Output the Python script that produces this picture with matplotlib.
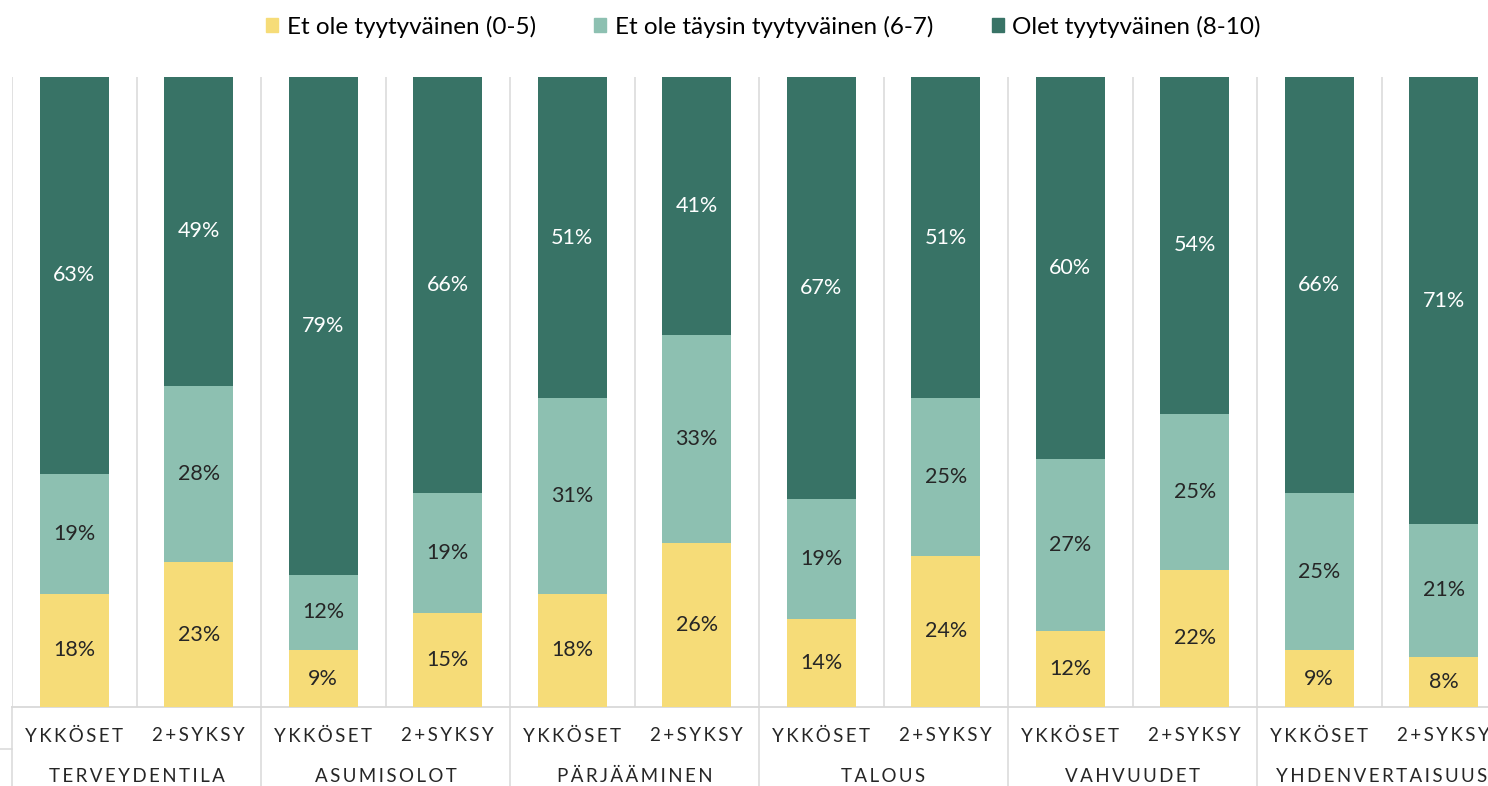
import numpy as np
import matplotlib.pyplot as plt
from matplotlib.patches import Patch
from matplotlib.transforms import blended_transform_factory

plt.rcParams['font.family'] = ['Lato', 'DejaVu Sans']

groups = ['TERVEYDENTILA', 'ASUMISOLOT', 'PÄRJÄÄMINEN', 'TALOUS', 'VAHVUUDET', 'YHDENVERTAISUUS']
subgroups = ['YKKÖSET', '2+SYKSY']
series_names = ['Et ole tyytyväinen (0-5)', 'Et ole täysin tyytyväinen (6-7)', 'Olet tyytyväinen (8-10)']

# one value per bar, order: group1 ykköset, group1 2+syksy, group2 ...
low = [18, 23, 9, 15, 18, 26, 14, 24, 12, 22, 9, 8]
mid = [19, 28, 12, 19, 31, 33, 19, 25, 27, 25, 25, 21]
high = [63, 49, 79, 66, 51, 41, 67, 51, 60, 54, 66, 71]

colors = ['#F6DC78', '#8DC0B1', '#387366']
text_colors = ['#262626', '#262626', 'white']
grid_col = '#D9D9D9'

W, H = 1488, 786
fig = plt.figure(figsize=(W / 100, H / 100), dpi=100)
ax = fig.add_axes([12 / W, (H - 707) / H, 1494 / W, 630 / H])

vals = np.array([low, mid, high], dtype=float)
shares = vals / vals.sum(axis=0)
x = np.arange(len(low))
bottom = np.zeros(len(low))
for i in range(3):
    ax.bar(x, shares[i], 0.555, bottom=bottom, color=colors[i], zorder=3)
    for j in range(len(x)):
        ax.text(x[j], bottom[j] + shares[i][j] / 2, f'{int(vals[i][j])}%',
                ha='center', va='center', fontsize=15.5, color=text_colors[i], zorder=4)
    bottom += shares[i]

ax.set_xlim(-0.5, len(x) - 0.5)
ax.set_ylim(0, 1)
ax.axis('off')

# gridlines between bars
for b in np.arange(-0.5, len(x), 1.0):
    ax.axvline(b, color=grid_col, lw=1.1, zorder=1)
ax.axhline(0, color=grid_col, lw=1.3, zorder=2, clip_on=False)

# category axis (two levels), letter spaced
sp = '\u2009'
tr = blended_transform_factory(ax.transData, ax.transAxes)
for j in range(len(x)):
    ax.text(x[j], -0.046, sp.join(subgroups[j % 2]), transform=tr, ha='center',
            va='center', fontsize=13.5, color='#262626', clip_on=False)
for g, name in enumerate(groups):
    ax.text(2 * g + 0.5, -0.11, sp.join(name), transform=tr, ha='center',
            va='center', fontsize=13.5, color='#262626', clip_on=False)
for b in np.arange(-0.5, len(x), 2.0):
    ax.plot([b, b], [0, -0.14], transform=tr, color=grid_col, lw=1.1, clip_on=False)
ax.plot([-0.6, -0.5], [-0.067, -0.067], transform=tr, color=grid_col, lw=1.1, clip_on=False)

handles = [Patch(color=c) for c in colors]
fig.legend(handles, series_names, loc='upper center', bbox_to_anchor=(0.513, 1.008),
           ncol=3, frameon=False, fontsize=17.5, handlelength=0.5, handleheight=0.5,
           handletextpad=0.35, columnspacing=2.4)

fig.savefig('out.png', dpi=100)
